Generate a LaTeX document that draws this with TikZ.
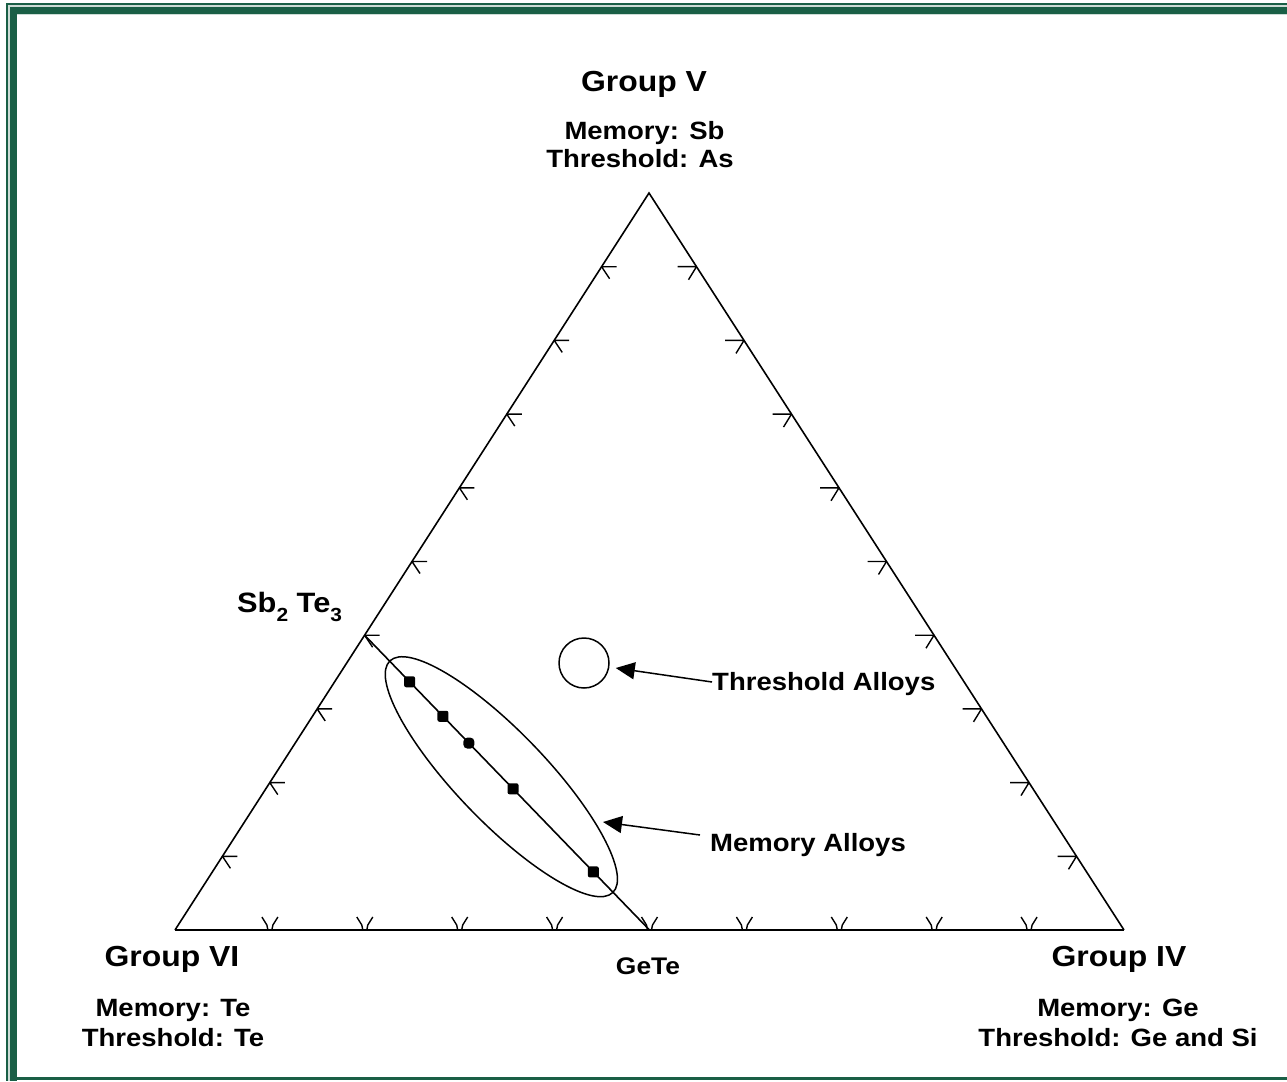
\documentclass[tikz,border=0pt]{standalone}
\usepackage{fontspec}
\setmainfont{Liberation Sans}[FakeStretch=1.1]
\usetikzlibrary{arrows.meta,shapes.geometric,calc}
\definecolor{frame}{RGB}{26,95,70}
\begin{document}
\begin{tikzpicture}[x=1pt,y=-1pt,
  edge/.style={line width=1.6pt,black},
  tk/.style={line width=1.4pt,black},
  lbl/.style={inner sep=0pt,anchor=base},
  grp/.style={lbl,font=\fontsize{29}{33}\selectfont\bfseries},
  sub/.style={lbl,font=\fontsize{25}{29}\selectfont\bfseries},
  dotmark/.style={fill=black,draw=none,rectangle,rounded corners=2pt,minimum size=11pt,inner sep=0pt},
  arr/.style={line width=1.5pt,-{Triangle[length=19pt,width=17pt]}}]
\useasboundingbox (0,0) rectangle (1287,1081);
\fill[white] (0,0) rectangle (1287,1081);
% frame
\fill[frame!22] (7.6,5) rectangle (1287,7.3);
\fill[frame!22] (7.6,5) rectangle (10,1081);
\fill[frame] (6,3) rectangle (1287,5);
\fill[frame] (6,3) rectangle (7.6,1081);
\fill[frame] (10,7.3) rectangle (1287,14);
\fill[frame] (10,7.3) rectangle (16.7,1081);
\fill[frame!22] (16.7,14) rectangle (1287,15.2);
\fill[frame] (16.7,1077.3) rectangle (1287,1080);
% vertices
\coordinate (vt) at (649,193);
\coordinate (vl) at (175,930);
\coordinate (vr) at (1124,930);
\draw[edge,line join=miter] (vl) -- (vt) -- (vr);
\draw[line width=2.2pt] (vl) -- (vr);
% ticks
\foreach \i in {1,...,9}{
  \draw[tk] ($(vl)!\i/10!(vt)$) -- ++(15,0) ($(vl)!\i/10!(vt)$) -- ++(8,12);
  \draw[tk] ($(vt)!\i/10!(vr)$) -- ++(-19,0) ($(vt)!\i/10!(vr)$) -- ++(-8,13);
  \draw[tk] ($(vl)!\i/10!(vr)+(-8,-13)$) -- ($(vl)!\i/10!(vr)+(-3,-5)$) -- ($(vl)!\i/10!(vr)+(-2,0)$)
            ($(vl)!\i/10!(vr)+(8,-13)$) -- ($(vl)!\i/10!(vr)+(3,-5)$) -- ($(vl)!\i/10!(vr)+(2,0)$);
}
% tie line
\coordinate (st) at ($(vl)!0.4!(vt)$);
\coordinate (gt) at ($(vl)!0.5!(vr)$);
\draw[edge] (st) -- (gt);
\node[dotmark] (d1) at ($(st)!0.158!(gt)$) {};
\node[dotmark] (d2) at ($(st)!0.275!(gt)$) {};
\node[dotmark,rounded corners=4pt] (d3) at ($(st)!0.366!(gt)$) {};
\node[dotmark] (d4) at ($(st)!0.521!(gt)$) {};
\node[dotmark] (d5) at ($(st)!0.803!(gt)$) {};
% regions
\node[draw,line width=1.5pt,ellipse,minimum width=321.5pt,minimum height=90pt,inner sep=0pt,rotate=-46.1] (mem) at ($(st)!0.48!(gt)$) {};
\node[draw,line width=1.5pt,circle,minimum size=50pt,inner sep=0pt] (thr) at (584,663) {};
% labels
\node[grp] (gv) at (644,92) {Group V};
\node[sub] (gvm) at (644.5,139) {Memory: Sb};
\node[sub] (gvt) at (640,167) {Threshold: As};
\node[grp] (gvi) at (172,966) {Group VI};
\node[sub] (gvim) at (173,1016) {Memory: Te};
\node[sub] (gvit) at (173,1046) {Threshold: Te};
\node[grp] (giv) at (1119,966) {Group IV};
\node[sub] (givm) at (1118,1016) {Memory: Ge};
\node[sub] (givt) at (1118,1046) {Threshold: Ge and Si};
\node[sub,font=\fontsize{24}{28}\selectfont\bfseries] (gete) at (648,974) {GeTe};
\node[lbl,anchor=base west,font=\fontsize{28}{32}\selectfont\bfseries] (sbte) at (237,612)
  {Sb\raisebox{-9pt}{\fontsize{19}{19}\selectfont 2} Te\raisebox{-9pt}{\fontsize{19}{19}\selectfont 3}};
\node[sub,anchor=base west] (thrl) at (712,690) {Threshold Alloys};
\node[sub,anchor=base west] (meml) at (710,851) {Memory Alloys};
% arrows
\coordinate (memtip) at (603,822);
\draw[arr] ($(thrl.base west)+(0,-8)$) -- ($(thr.east)+(6,5)$);
\draw[arr] ($(meml.base west)+(-10,-16)$) -- (memtip);
\end{tikzpicture}
\end{document}
